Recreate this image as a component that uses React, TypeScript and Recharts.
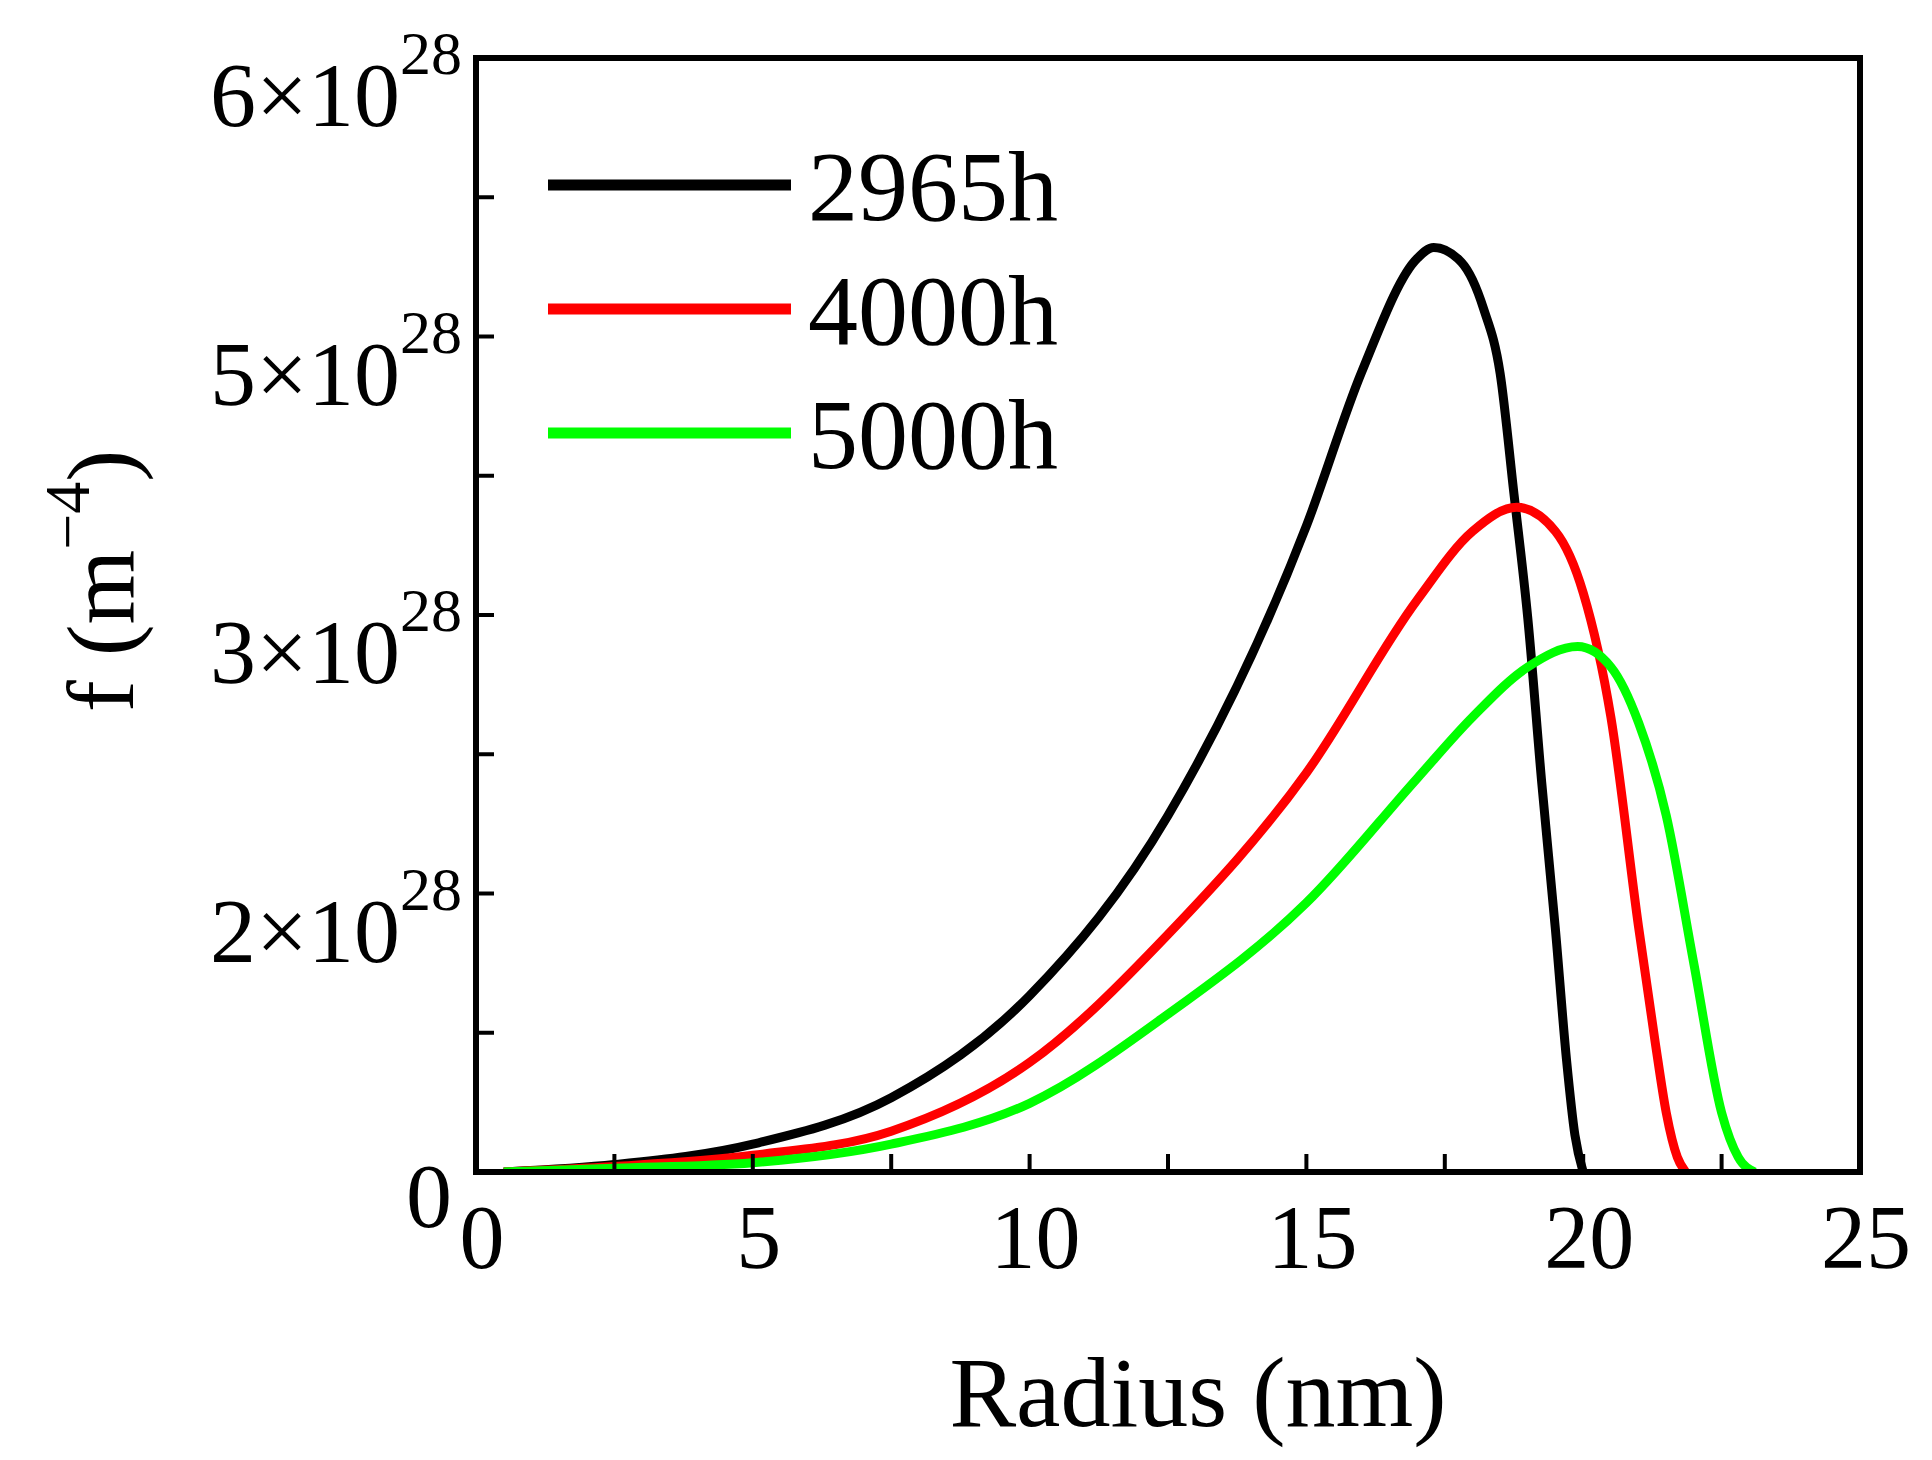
import React from 'react';
import { LineChart, Line, XAxis, YAxis } from 'recharts';

// radius (nm) vs f in units of 1e28 m^-4
const r2965 = [0.5, 2.5, 5, 7.5, 10, 12.5, 15, 16, 17, 17.3, 17.8, 18.2, 18.5, 18.75, 19, 19.25, 19.5, 19.7, 19.85, 20];
const f2965 = [0, 0.04, 0.15, 0.4, 0.95, 1.92, 3.48, 4.31, 4.92, 4.98, 4.9, 4.65, 4.3, 3.65, 2.98, 2.1, 1.3, 0.6, 0.2, 0];

const r4000 = [0.5, 2.5, 5, 7.5, 10, 12.5, 15, 17, 18, 18.8, 19.5, 20, 20.5, 21, 21.3, 21.5, 21.7, 21.85];
const f4000 = [0, 0.03, 0.09, 0.22, 0.59, 1.28, 2.15, 3.08, 3.45, 3.58, 3.45, 3.12, 2.45, 1.32, 0.7, 0.32, 0.08, 0];

const r5000 = [0.5, 2.5, 5, 7.5, 10, 12.5, 15, 17, 18, 19, 19.9, 20.5, 21, 21.5, 22, 22.5, 22.8, 23.1];
const f5000 = [0, 0.02, 0.05, 0.15, 0.37, 0.85, 1.45, 2.12, 2.45, 2.72, 2.83, 2.72, 2.42, 1.92, 1.12, 0.32, 0.08, 0];

const xTicks = [0, 2.5, 5, 7.5, 10, 12.5, 15, 17.5, 20, 22.5, 25];
const yTicks = [0, 0.75, 1.5, 2.25, 3, 3.75, 4.5, 5.25, 6];
const yLabels: Record<string, string> = { '0': '0', '1.5': '2', '3': '3', '4.5': '5', '6': '6' };

const legendNames = ['2965h', '4000h', '5000h'];
const colors = ['#000000', '#ff0000', '#00ff00'];

const toRows = (r: number[], f: number[]) => r.map((x, i) => ({ x, y: f[i] }));
const series = [toRows(r2965, f2965), toRows(r4000, f4000), toRows(r5000, f5000)];

const FONT = '"Liberation Serif", "Times New Roman", serif';

const XTick = (p: any) => {
  const v = p.payload.value;
  if (v % 5 !== 0) return null;
  return (
    <text x={p.x + 6} y={p.y + 112} textAnchor="middle" fontSize={90} fontFamily={FONT} fill="#000">
      {v}
    </text>
  );
};

const YTick = (p: any) => {
  const lab = yLabels[String(p.payload.value)];
  if (!lab) return null;
  if (lab === '0')
    return (
      <text x={p.x - 40} y={p.y + 55} textAnchor="end" fontSize={92} fontFamily={FONT} fill="#000">0</text>
    );
  return (
    <text x={p.x - 30} y={p.y + 68} textAnchor="end" fontSize={92} fontFamily={FONT} fill="#000">
      {lab}×10
      <tspan fontSize={62} dy={-52}>28</tspan>
    </text>
  );
};

export default function App() {
  return (
    <div style={{ position: 'relative', width: 1920, height: 1450, background: '#fff' }}>
      <LineChart width={1920} height={1450} margin={{ top: 50, right: 68, left: 368, bottom: 186 }}>
        <XAxis
          type="number" dataKey="x" domain={[0, 25]} ticks={xTicks} height={100}
          allowDataOverflow tick={<XTick />} tickSize={-18}
          axisLine={{ stroke: '#000', strokeWidth: 6 }} tickLine={{ stroke: '#000', strokeWidth: 4 }}
        />
        <YAxis
          type="number" dataKey="y" domain={[0, 6]} ticks={yTicks} width={100}
          allowDataOverflow tick={<YTick />} tickSize={-18}
          axisLine={{ stroke: '#000', strokeWidth: 6 }} tickLine={{ stroke: '#000', strokeWidth: 4 }}
        />
        {series.map((d, i) => (
          <Line key={i} data={d} dataKey="y" type="monotone" stroke={colors[i]} strokeWidth={9}
            dot={false} isAnimationActive={false} />
        ))}
      </LineChart>
      <svg width={1920} height={1450} style={{ position: 'absolute', left: 0, top: 0, pointerEvents: 'none' }}>
        <rect x={468} y={50} width={1384} height={1114} fill="none" stroke="#000" strokeWidth={6} />
        {legendNames.map((n, i) => (
          <g key={n}>
            <line x1={540} x2={783} y1={177 + i * 124} y2={177 + i * 124} stroke={colors[i]} strokeWidth={11} />
            <text x={800} y={212 + i * 124} fontSize={100} fontFamily={FONT} fill="#000">{n}</text>
          </g>
        ))}
        <text transform="translate(125,573) rotate(-90)" textAnchor="middle" fontSize={96} fontFamily={FONT} fill="#000">
          f (m<tspan fontSize={64} dy={-44}>−4</tspan><tspan dy={44}>)</tspan>
        </text>
        <text x={1190} y={1418} textAnchor="middle" fontSize={100} fontFamily={FONT} fill="#000">Radius (nm)</text>
      </svg>
    </div>
  );
}
